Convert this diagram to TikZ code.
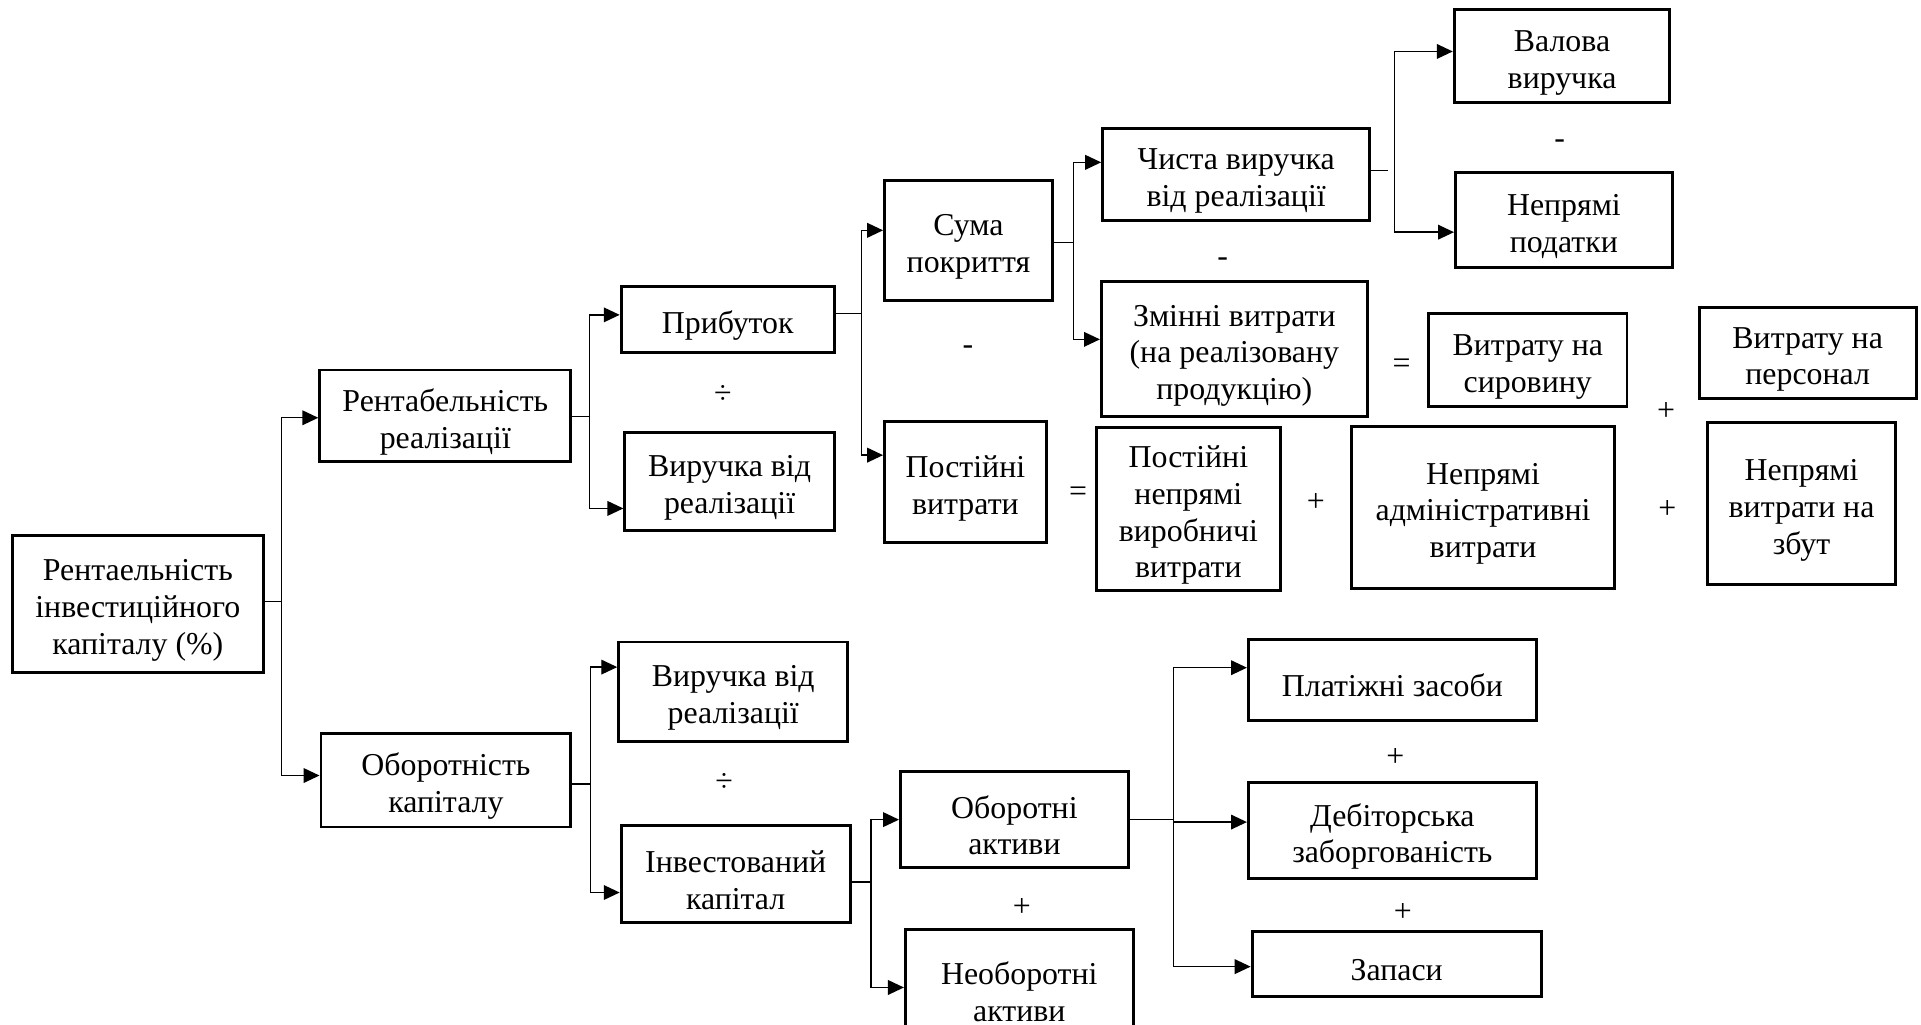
\documentclass[tikz,border=0pt]{standalone}
\usepackage{fontspec}
\setmainfont{Liberation Serif}
\usetikzlibrary{arrows.meta,calc}
\newcommand\tstrut{\rule{0pt}{14pt}}
\begin{document}
\begin{tikzpicture}[x=0.5pt,y=-0.5pt,
  box/.style={draw,line width=1.2pt,align=center,inner sep=0.5pt,font=\fontsize{13}{15}\selectfont},
  op/.style={inner sep=0pt,font=\fontsize{13}{15}\selectfont},
  con/.style={line width=0.55pt},
  arr/.style={con,-{Triangle[length=6.5pt,width=6pt]}}]
\fill[white] (0,0) rectangle (1568,836);
\clip (0,0) rectangle (1568,836);

% boxes
\node[box,minimum width=102.5pt,minimum height=56pt] (root) at (112.5,493) {\tstrut Рентаельність\\інвестиційного\\капіталу (\%)};
\node[box,minimum width=102.5pt,minimum height=37.5pt] (rr) at (363.5,339.5) {\tstrut Рентабельність\\реалізації};
\node[box,minimum width=87pt,minimum height=27pt] (prib) at (594,261) {\tstrut Прибуток};
\node[box,minimum width=85.5pt,minimum height=40pt] (vyr1) at (595.5,393) {\tstrut Виручка від\\реалізації};
\node[box,minimum width=68.5pt,minimum height=49pt] (suma) at (790.5,196) {\tstrut Сума\\покриття};
\node[box,minimum width=66pt,minimum height=49.5pt] (post) at (788,393.5) {\tstrut Постійні\\витрати};
\node[box,minimum width=109pt,minimum height=37.5pt] (chysta) at (1009,142.5) {\tstrut Чиста виручка\\від реалізації};
\node[box,minimum width=88pt,minimum height=38pt] (valova) at (1275,46) {\tstrut Валова\\виручка};
\node[box,minimum width=88.5pt,minimum height=38.5pt] (nepod) at (1276.5,179.5) {\tstrut Непрямі\\податки};
\node[box,minimum width=108.5pt,minimum height=55pt] (zminni) at (1007.5,285) {\tstrut Змінні витрати\\(на реалізовану\\продукцію)};
\node[box,minimum width=81pt,minimum height=38pt] (syrov) at (1247,294) {\tstrut Витрату на\\сировину};
\node[box,minimum width=88.5pt,minimum height=37pt] (person) at (1475.5,288) {\tstrut Витрату на\\персонал};
\node[box,minimum width=75pt,minimum height=66.5pt] (ppvv) at (970,415.5) {\tstrut Постійні\\непрямі\\виробничі\\витрати};
\node[box,minimum width=107.5pt,minimum height=66pt] (adm) at (1210.5,414) {\tstrut Непрямі\\адміністративні\\витрати};
\node[box,minimum width=76.5pt,minimum height=66pt] (zbut) at (1470.5,411) {\tstrut Непрямі\\витрати на\\збут};
\node[box,minimum width=102pt,minimum height=38pt] (obk) at (364,637) {\tstrut Оборотність\\капіталу};
\node[box,minimum width=93.5pt,minimum height=40.5pt] (vyr2) at (598.5,564.5) {\tstrut Виручка від\\реалізації};
\node[box,minimum width=93.5pt,minimum height=39.5pt] (invk) at (600.5,713.5) {\tstrut Інвестований\\капітал};
\node[box,minimum width=93pt,minimum height=39pt] (oba) at (828,669) {\tstrut Оборотні\\активи};
\node[box,minimum width=93pt,minimum height=45.5pt] (neoba) at (832,804.5) {\tstrut Необоротні\\активи};
\node[box,minimum width=117.5pt,minimum height=33pt] (plat) at (1136.5,555) {\tstrut Платіжні засоби};
\node[box,minimum width=117.5pt,minimum height=39pt] (debit) at (1136.5,678) {\tstrut Дебіторська\\заборгованість};
\node[box,minimum width=118pt,minimum height=26.5pt] (zapasy) at (1140,786.5) {\tstrut Запаси};

% operators
\node[op] (o1) at (590,322) {÷};
\node[op] (o2) at (790,286) {-};
\node[op] (o3) at (880,403) {=};
\node[op] (o4) at (1273,118) {-};
\node[op] (o5) at (998,214) {-};
\node[op] (o6) at (1144,299) {=};
\node[op] (o7) at (1360,336) {+};
\node[op] (o8) at (1074,410) {+};
\node[op] (o9) at (1361,416) {+};
\node[op] (o10) at (591,639) {÷};
\node[op] (o11) at (834,741) {+};
\node[op] (o12) at (1139,618) {+};
\node[op] (o13) at (1145,745) {+};

% junctions
\coordinate (j1) at (230,491);
\coordinate (j2) at (481,340);
\coordinate (j3) at (482,640);
\coordinate (j4) at (703,256);
\coordinate (j5) at (876,198);
\coordinate (j6) at (1138,139);
\coordinate (d6) at (1133,139);
\coordinate (j7) at (711,720);
\coordinate (j8) at (958,669);

% connectors
\draw[con] (root.east |- j1) -- (j1);
\draw[arr] (j1) |- ($(rr.west)+(0,1.5)$);
\draw[arr] (j1) |- ($(obk.west)+(0,-4)$);

\draw[con] (rr.east |- j2) -- (j2);
\draw[arr] (j2) |- ($(prib.west)+(0,-4)$);
\draw[arr] (j2) |- ($(vyr1.west)+(0,22)$);

\draw[con] (obk.east |- j3) -- (j3);
\draw[arr] (j3) |- ($(vyr2.west)+(0,-20)$);
\draw[arr] (j3) |- ($(invk.west)+(0,15)$);

\draw[con] (prib.east |- j4) -- (j4);
\draw[arr] (j4) |- ($(suma.west)+(0,-8)$);
\draw[arr] (j4) |- ($(post.west)+(0,-22)$);

\draw[con] (suma.east |- j5) -- (j5);
\draw[arr] (j5) |- ($(chysta.west)+(0,-10)$);
\draw[arr] (j5) |- ($(zminni.west)+(0,-8)$);

\draw[con] (chysta.east |- d6) -- (d6);
\draw[arr] (j6) |- ($(valova.west)+(0,-4)$);
\draw[arr] (j6) |- ($(nepod.west)+(0,10)$);

\draw[con] (invk.east |- j7) -- (j7);
\draw[arr] (j7) |- (oba.west);
\draw[arr] (j7) |- ($(neoba.west)+(0,1.5)$);

\draw[con] (oba.east |- j8) -- (j8);
\draw[arr] (j8) |- ($(plat.west)+(0,-10)$);
\draw[arr] (j8) |- ($(debit.west)+(0,-7)$);
\draw[arr] (j8) |- ($(zapasy.west)+(0,2.5)$);
\end{tikzpicture}
\end{document}
